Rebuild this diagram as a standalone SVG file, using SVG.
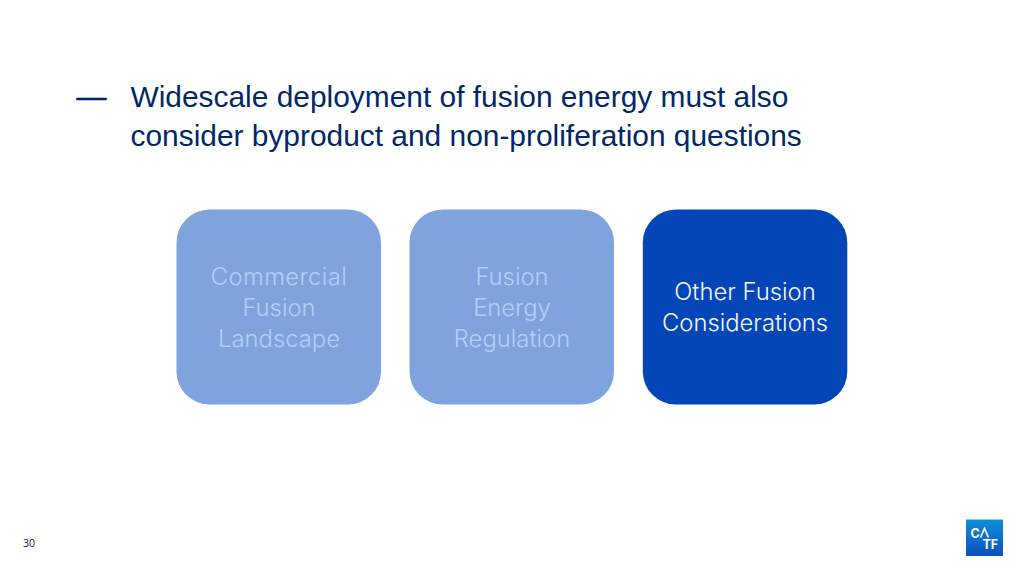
<svg xmlns="http://www.w3.org/2000/svg" width="1024" height="576" viewBox="0 0 1024 576">
<style>
.h{font-family:"Liberation Sans",Arial,sans-serif;font-size:29.9px;fill:#002869}
.n{font-family:Inter,"Noto Sans",sans-serif;font-size:23.8px;font-weight:300;text-anchor:middle}
.f{fill:#7fa3dc}.ft{fill:#b4cffa}
.m{font-family:Inter,sans-serif;font-size:12.5px;font-weight:700;fill:#fff}
</style>
<defs><linearGradient id="logo" x1="0" y1="0" x2="0" y2="1"><stop offset="0" stop-color="#0f8fd8"/><stop offset="1" stop-color="#0a4fc0"/></linearGradient></defs>
<rect width="1024" height="576" fill="#fff"/>
<g id="heading">
<text class="h" x="76.500" y="107" stroke="#002869" stroke-width="0.700">—</text>
<text class="h" x="130.500" y="107">Widescale deployment of fusion energy must also</text>
<text class="h" x="130.500" y="146">consider byproduct and non-proliferation questions</text>
</g>
<g id="node-landscape">
<rect class="f" x="176.500" y="209.500" width="204.500" height="195" rx="33"/>
<text class="n ft" x="279" y="284.500" letter-spacing="0.400">Commercial</text>
<text class="n ft" x="279" y="315.500">Fusion</text>
<text class="n ft" x="279" y="346.500">Landscape</text>
</g>
<g id="node-regulation">
<rect class="f" x="409.500" y="209.500" width="204.500" height="195" rx="33"/>
<text class="n ft" x="512" y="284.500">Fusion</text>
<text class="n ft" x="512" y="315.500">Energy</text>
<text class="n ft" x="512" y="346.500">Regulation</text>
</g>
<g id="node-other">
<rect fill="#0445b8" x="642.800" y="209.500" width="204.500" height="195" rx="33"/>
<text class="n" fill="#f2f7ff" x="745" y="300">Other Fusion</text>
<text class="n" fill="#f2f7ff" x="745" y="330.500">Considerations</text>
</g>
<g id="connectors"></g>
<text x="23" y="547" font-family="'Open Sans',sans-serif" font-size="10.500" fill="#002060">30</text>
<g id="logo-mark">
<rect x="966" y="519.500" width="37" height="36.500" fill="url(#logo)"/>
<text class="m" x="970.500" y="537.500">C</text>
<path d="M980.500 537.500 L984.500 528.500 L988.500 537.500" fill="none" stroke="#fff" stroke-width="1.700"/>
<text class="m" x="982.500" y="549">TF</text>
</g>
</svg>
